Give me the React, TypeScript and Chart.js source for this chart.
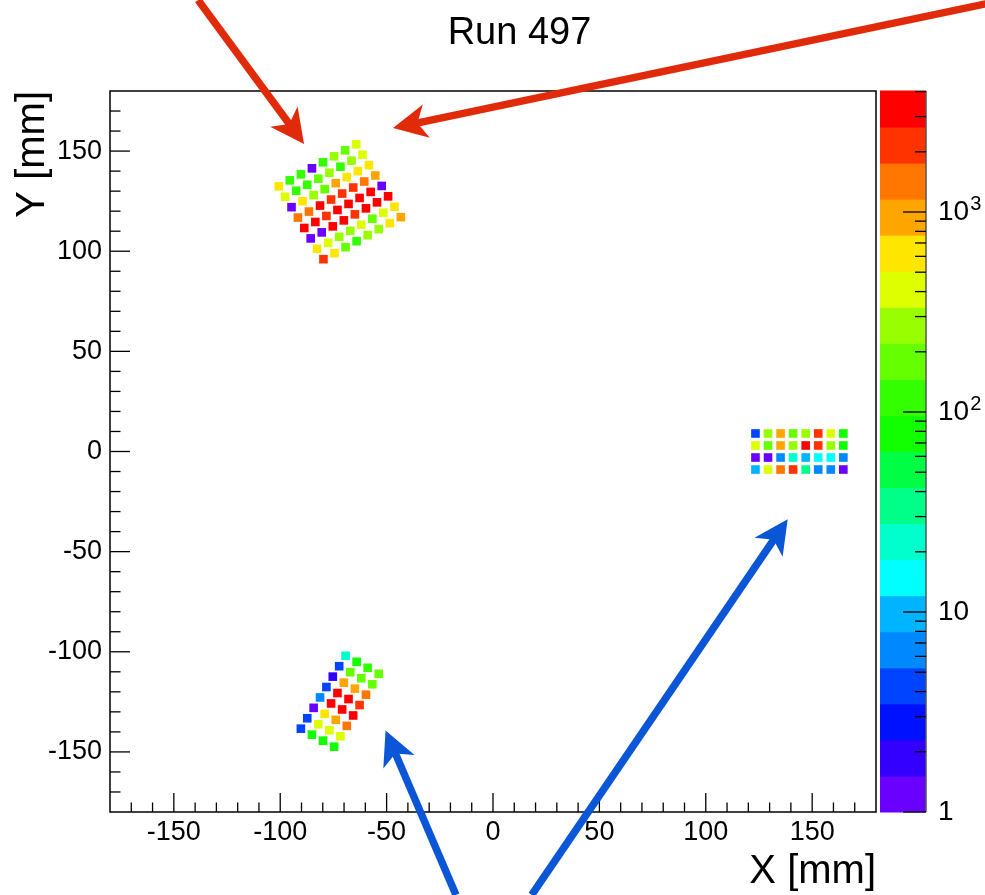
import React, { useEffect, useRef } from 'react';
import { Chart, registerables } from 'chart.js';

Chart.register(...registerables);

const FONT = '"Liberation Sans", Arial, Helvetica, sans-serif';

// ---- axes ----
const xRange = [-180, 180];
const yRange = [-180, 180];
const zRange = [1, 4027];
const majorStep = 50;
const minorStep = 10;
const titleText = 'Run 497';
const xTitle = 'X [mm]';
const yTitle = 'Y [mm]';

// ---- colour palette (20 levels, bottom to top) ----
const paletteColors = [
  '#6a00ff', '#3300ff', '#0011ff', '#0044ff', '#0088ff',
  '#00b4ff', '#00ffff', '#00ffcc', '#00ff88', '#00ff44',
  '#11ff00', '#33ff00', '#66ff00', '#99ff00', '#ddff00',
  '#ffe600', '#ffa500', '#ff7700', '#ff3300', '#ff0000',
];

// ---- detector modules (centre in mm, rotation in deg, pitch in mm) ----
const moduleCenterX = [-72, -72, 144];
const moduleCenterY = [124.7, -124.7, 0];
const moduleAngleDeg = [30, -30, 0];
const modulePitchU = [6, 6, 5.9];
const modulePitchV = [6, 6, 6];

// counts per pad, rows x columns
const countsA = [
  [620, 115, 110, 1, 120, 260, 175, 410],
  [390, 120, 105, 170, 270, 118, 255, 420],
  [1, 600, 250, 185, 930, 640, 590, 610],
  [1380, 1450, 3100, 2200, 2050, 2150, 1420, 950],
  [3300, 3350, 2150, 3400, 3200, 3150, 3300, 1],
  [1, 1, 3250, 3150, 2100, 3300, 3200, 3100],
  [610, 400, 265, 270, 420, 180, 390, 630],
  [2100, 620, 175, 110, 265, 270, 600, 910],
];
const countsB = [
  [23, 80, 115, 180],
  [4, 185, 175, 190],
  [2, 930, 910, 1400],
  [4, 3300, 3200, 2100],
  [6, 3250, 3100, 3150],
  [1, 620, 920, 1420],
  [4, 410, 400, 420],
  [4, 80, 85, 78],
];
const countsC = [
  [4, 260, 930, 180, 265, 2150, 400, 80],
  [410, 175, 920, 260, 3300, 2100, 270, 82],
  [1, 1, 6, 23, 10, 15, 14, 6],
  [10, 400, 1400, 2100, 38, 6, 6, 1],
];
const moduleCounts = [countsA, countsB, countsC];

// ---- annotation arrows (data coordinates, mm) ----
const arrowStartX = [-138.6, 232.0, -17.4, 18.2];
const arrowStartY = [225.4, 223.6, -221.4, -221.4];
const arrowTipX = [-88.8, -47.0, -50.5, 138.5];
const arrowTipY = [153.5, 161.5, -139.3, -33.8];
const arrowColors = ['#e12a0a', '#e12a0a', '#0a56d6', '#0a56d6'];

const zLogMax = Math.log10(zRange[1]);
const levelWidth = zLogMax / paletteColors.length;

function colorFor(v: number): string {
  let k = Math.floor(Math.log10(Math.max(v, zRange[0])) / levelWidth);
  if (k < 0) k = 0;
  if (k >= paletteColors.length) k = paletteColors.length - 1;
  return paletteColors[k];
}

function buildDatasets() {
  return moduleCounts.map((counts, m) => {
    const th = (moduleAngleDeg[m] * Math.PI) / 180;
    const ux = Math.cos(th), uy = Math.sin(th);
    const vx = Math.sin(th), vy = -Math.cos(th);
    const rows = counts.length;
    const cols = counts[0].length;
    const pts: any[] = [];
    const colors: string[] = [];
    for (let r = 0; r < rows; r++) {
      for (let c = 0; c < cols; c++) {
        const a = (c - (cols - 1) / 2) * modulePitchU[m];
        const b = (r - (rows - 1) / 2) * modulePitchV[m];
        pts.push({
          x: moduleCenterX[m] + a * ux + b * vx,
          y: moduleCenterY[m] + a * uy + b * vy,
          v: counts[r][c],
        });
        colors.push(colorFor(counts[r][c]));
      }
    }
    return {
      label: 'module ' + m,
      data: pts,
      backgroundColor: colors,
      pointStyle: 'rect',
      pointRadius: 6.1,
      pointHoverRadius: 6.1,
      borderWidth: 0,
    };
  });
}

function drawArrow(ctx: CanvasRenderingContext2D, x0: number, y0: number, x1: number, y1: number, color: string) {
  const L = 34, W = 17, notch = 25, lw = 7.5;
  const dx = x1 - x0, dy = y1 - y0;
  const len = Math.hypot(dx, dy);
  const ux = dx / len, uy = dy / len;
  const nx = -uy, ny = ux;
  const bx = x1 - ux * notch, by = y1 - uy * notch;
  ctx.strokeStyle = color;
  ctx.lineWidth = lw;
  ctx.lineCap = 'butt';
  ctx.beginPath();
  ctx.moveTo(x0, y0);
  ctx.lineTo(bx + ux * 2, by + uy * 2);
  ctx.stroke();
  ctx.fillStyle = color;
  ctx.beginPath();
  ctx.moveTo(x1, y1);
  ctx.lineTo(x1 - ux * L + nx * W, y1 - uy * L + ny * W);
  ctx.lineTo(bx, by);
  ctx.lineTo(x1 - ux * L - nx * W, y1 - uy * L - ny * W);
  ctx.closePath();
  ctx.fill();
}

const overlayPlugin = {
  id: 'rootOverlay',
  afterDraw(chart: any) {
    const ctx: CanvasRenderingContext2D = chart.ctx;
    const { left, right, top, bottom } = chart.chartArea;
    const xs = chart.scales.x;
    const ys = chart.scales.y;
    const cb = chart.scales.cb;
    ctx.save();

    // colour bar
    const cbL = right + 4;
    const cbR = right + 50;
    for (let k = 0; k < paletteColors.length; k++) {
      const y1 = cb.getPixelForValue(Math.pow(10, k * levelWidth));
      const y2 = cb.getPixelForValue(Math.pow(10, (k + 1) * levelWidth));
      ctx.fillStyle = paletteColors[k];
      ctx.fillRect(cbL, y2 - 0.5, cbR - cbL, y1 - y2 + 1);
    }
    ctx.strokeStyle = '#555';
    ctx.lineWidth = 1.5;
    ctx.beginPath();
    ctx.moveTo(cbR, cb.top);
    ctx.lineTo(cbR, cb.bottom);
    ctx.stroke();
    ctx.strokeStyle = '#000';
    ctx.lineWidth = 1.3;
    for (let d = 0; d <= 3; d++) {
      for (let mm = 1; mm <= 9; mm++) {
        const v = mm * Math.pow(10, d);
        if (v > zRange[1]) continue;
        const y = cb.getPixelForValue(v);
        const len = mm === 1 ? 23 : 11;
        ctx.beginPath();
        ctx.moveTo(cbR - len, y);
        ctx.lineTo(cbR, y);
        ctx.stroke();
      }
    }
    // superscripts of the colour bar labels
    const labelX = cb.left + cb.options.ticks.padding;
    ctx.fillStyle = '#000';
    ctx.textAlign = 'left';
    ctx.textBaseline = 'alphabetic';
    [2, 3].forEach((e) => {
      const y = cb.getPixelForValue(Math.pow(10, e));
      ctx.font = `28px ${FONT}`;
      const w = ctx.measureText('10').width;
      ctx.font = `20px ${FONT}`;
      ctx.fillText(String(e), labelX + w + 1, y - 1.5);
    });

    // frame
    ctx.strokeStyle = '#000';
    ctx.lineWidth = 1.5;
    ctx.strokeRect(left, top, right - left, bottom - top);

    // inward ticks
    ctx.lineWidth = 1.3;
    xs.ticks.forEach((t: any) => {
      const v = Math.round(t.value);
      if (v <= xRange[0] || v >= xRange[1]) return;
      const px = xs.getPixelForValue(v);
      const len = v % majorStep === 0 ? 19 : 9.5;
      ctx.beginPath();
      ctx.moveTo(px, bottom);
      ctx.lineTo(px, bottom - len);
      ctx.stroke();
    });
    ys.ticks.forEach((t: any) => {
      const v = Math.round(t.value);
      if (v <= yRange[0] || v >= yRange[1]) return;
      const py = ys.getPixelForValue(v);
      const len = v % majorStep === 0 ? 20 : 10.5;
      ctx.beginPath();
      ctx.moveTo(left, py);
      ctx.lineTo(left + len, py);
      ctx.stroke();
    });

    // title
    ctx.fillStyle = '#000';
    ctx.font = `38px ${FONT}`;
    ctx.textAlign = 'center';
    ctx.textBaseline = 'alphabetic';
    ctx.fillText(titleText, (left + right) / 2 + 26.5, 44);

    // arrows
    for (let i = 0; i < arrowStartX.length; i++) {
      drawArrow(
        ctx,
        xs.getPixelForValue(arrowStartX[i]),
        ys.getPixelForValue(arrowStartY[i]),
        xs.getPixelForValue(arrowTipX[i]),
        ys.getPixelForValue(arrowTipY[i]),
        arrowColors[i]
      );
    }
    ctx.restore();
  },
};

export default function App() {
  const ref = useRef<HTMLCanvasElement | null>(null);
  useEffect(() => {
    if (!ref.current) return;
    const chart = new Chart(ref.current, {
      type: 'scatter',
      data: { datasets: buildDatasets() as any },
      options: {
        animation: false,
        responsive: false,
        devicePixelRatio: 1,
        events: [],
        layout: { padding: { top: 91, left: 0, right: 0, bottom: 0 } },
        plugins: {
          legend: { display: false },
          tooltip: { enabled: false },
          title: { display: false },
        },
        scales: {
          x: {
            type: 'linear',
            position: 'bottom',
            min: xRange[0],
            max: xRange[1],
            afterFit: (s: any) => { s.height = 83; },
            grid: { display: false, drawTicks: false },
            border: { display: false },
            ticks: {
              stepSize: minorStep,
              autoSkip: false,
              maxRotation: 0,
              padding: 4,
              color: '#000',
              font: { family: FONT, size: 27 },
              callback: (v: any) => {
                const n = Math.round(Number(v));
                return n % majorStep === 0 && Math.abs(n) < 180 ? String(n) : '';
              },
            },
            title: {
              display: true,
              text: xTitle,
              align: 'end',
              color: '#000',
              font: { family: FONT, size: 40, lineHeight: 1 },
              padding: { top: 0, bottom: 3 },
            },
          },
          y: {
            type: 'linear',
            position: 'left',
            min: yRange[0],
            max: yRange[1],
            afterFit: (s: any) => { s.width = 110; },
            grid: { display: false, drawTicks: false },
            border: { display: false },
            ticks: {
              stepSize: minorStep,
              autoSkip: false,
              padding: 8,
              color: '#000',
              font: { family: FONT, size: 27 },
              callback: (v: any) => {
                const n = Math.round(Number(v));
                return n % majorStep === 0 && Math.abs(n) < 180 ? String(n) : '';
              },
            },
            title: {
              display: true,
              text: yTitle,
              align: 'end',
              color: '#000',
              font: { family: FONT, size: 40, lineHeight: 1 },
              padding: { top: 13, bottom: 0 },
            },
          },
          cb: {
            type: 'logarithmic',
            position: 'right',
            min: zRange[0],
            max: zRange[1],
            afterFit: (s: any) => { s.width = 109; },
            grid: { display: false, drawTicks: false },
            border: { display: false },
            ticks: {
              autoSkip: false,
              padding: 62,
              color: '#000',
              font: { family: FONT, size: 28 },
              callback: (v: any) => {
                const n = Math.round(Number(v));
                if (n === 1) return '1';
                if (n === 10 || n === 100 || n === 1000) return '10';
                return '';
              },
            },
          },
        } as any,
      },
      plugins: [overlayPlugin],
    } as any);
    return () => chart.destroy();
  }, []);

  return (
    <div style={{ position: 'absolute', left: 0, top: 0, width: 985, height: 895, background: '#fff' }}>
      <canvas ref={ref} width={985} height={895} style={{ display: 'block' }} />
    </div>
  );
}
